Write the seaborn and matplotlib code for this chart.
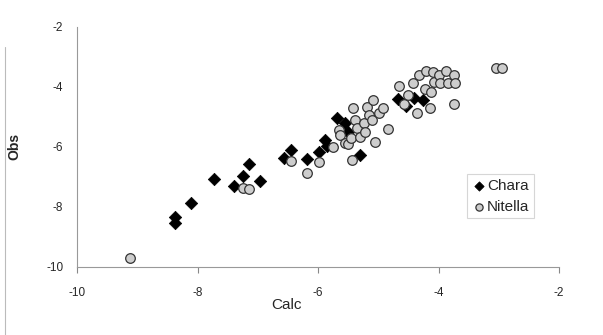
import matplotlib
matplotlib.use('Agg')
import matplotlib.pyplot as plt
import seaborn as sns
import pandas as pd
from matplotlib.lines import Line2D

# Chara (filled diamonds)
chara_calc = [-8.37, -8.37, -8.11, -7.73, -7.39, -7.24, -7.14, -6.96, -6.56, -6.45,
              -6.19, -5.98, -5.89, -5.86, -5.69, -5.31, -5.56, -5.50, -4.67, -4.54,
              -4.41, -4.25]
chara_obs = [-8.33, -8.53, -7.87, -7.09, -7.30, -6.97, -6.59, -7.14, -6.38, -6.10,
             -6.42, -6.17, -5.78, -5.97, -5.03, -6.27, -5.22, -5.50, -4.41, -4.64,
             -4.39, -4.44]

# Nitella (grey circles)
nitella_calc = [-9.12, -7.24, -7.14, -6.45, -6.19, -5.98, -5.75, -5.66, -5.63, -5.56,
                -5.50, -5.45, -5.42, -5.39, -5.35, -5.31, -5.24, -5.22, -5.18, -5.16,
                -5.11, -5.08, -5.05, -4.99, -4.92, -4.84, -5.43, -4.65, -4.57, -4.50,
                -4.43, -4.35, -4.32, -4.20, -4.14, -4.09, -4.07, -4.00, -3.97, -3.87,
                -3.84, -3.74, -3.73, -3.74, -4.22, -4.13, -3.05, -2.94]
nitella_obs = [-9.72, -7.39, -7.42, -6.47, -6.89, -6.52, -6.00, -5.44, -5.61, -5.89,
               -5.91, -5.72, -4.72, -5.11, -5.39, -5.67, -5.22, -5.50, -4.67, -4.94,
               -5.11, -4.44, -5.83, -4.89, -4.72, -5.41, -6.44, -3.97, -4.56, -4.28,
               -3.87, -4.89, -3.61, -3.47, -4.72, -3.50, -3.83, -3.61, -3.87, -3.47,
               -3.89, -3.61, -3.89, -4.59, -4.06, -4.17, -3.39, -3.39]

x_ticks = [-10, -8, -6, -4, -2]
y_ticks = [-10, -8, -6, -4, -2]

sns.set_theme(style='white')
plt.rcParams['font.family'] = ['Liberation Sans', 'DejaVu Sans']
plt.rcParams['axes.unicode_minus'] = False

fig = plt.figure(figsize=(6.03, 3.35), dpi=100)
ax = fig.add_axes([0.128, 0.204, 0.799, 0.716])

df_c = pd.DataFrame({'Calc': chara_calc, 'Obs': chara_obs})
df_n = pd.DataFrame({'Calc': nitella_calc, 'Obs': nitella_obs})

sns.scatterplot(data=df_c, x='Calc', y='Obs', ax=ax, marker='D', s=40,
                color='black', edgecolor='black', linewidth=0.5, label='Chara')
sns.scatterplot(data=df_n, x='Calc', y='Obs', ax=ax, marker='o', s=48,
                color='#cdcdcd', edgecolor='#333333', linewidth=0.9, label='Nitella')

ax.set_xlim(-10, -2)
ax.set_ylim(-10, -2)
ax.set_xticks(x_ticks)
ax.set_yticks(y_ticks)
ax.tick_params(axis='x', length=4, width=0.8, color='#888888', pad=11, labelsize=8.5)
ax.tick_params(axis='y', length=0, pad=10, labelsize=8.5)
ax.tick_params(bottom=True)

for side in ['top', 'right']:
    ax.spines[side].set_visible(False)
for side in ['left', 'bottom']:
    ax.spines[side].set_color('#999999')
    ax.spines[side].set_linewidth(0.8)

ax.set_xlabel('Calc', fontsize=11)
ax.set_ylabel('Obs', fontsize=10, fontweight='bold')
ax.xaxis.set_label_coords(0.434, -0.13)
ax.yaxis.set_label_coords(-0.115, 0.5)

leg = ax.legend(loc='upper left', bbox_to_anchor=(0.809, 0.386), fontsize=11,
                frameon=True, fancybox=False, borderpad=0.3, handletextpad=0.0,
                handlelength=1.0, borderaxespad=0, labelspacing=0.45, markerscale=0.75)
leg.get_frame().set_edgecolor('#cccccc')
leg.get_frame().set_linewidth(0.8)

# faint left border of the original figure frame
fig.add_artist(Line2D([0.009, 0.009], [0.0, 0.86], transform=fig.transFigure,
                      color='#bbbbbb', linewidth=0.8))

fig.savefig('out.png', dpi=100)
